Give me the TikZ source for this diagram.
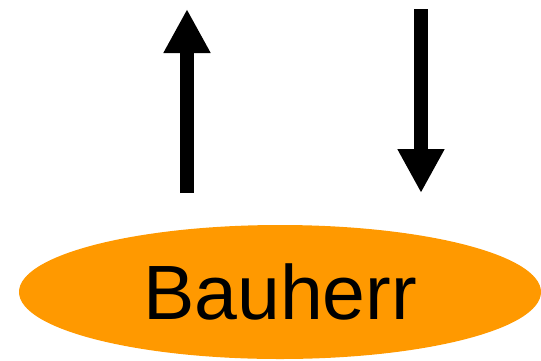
\documentclass[tikz,border=0pt]{standalone}
\usepackage{fontspec}
\setmainfont{Liberation Sans}
\usetikzlibrary{shapes.geometric,arrows.meta}
\definecolor{bauorange}{RGB}{255,153,0}
\tikzset{
  role/.style={ellipse, fill=bauorange, draw=none, inner sep=0pt,
    minimum width=522pt, minimum height=134pt,
    font=\fontsize{77pt}{80pt}\selectfont},
  flow/.style={line width=14pt, -{Triangle[length=44pt,width=44pt]}}
}
\begin{document}
\begin{tikzpicture}[x=1pt,y=-1pt]
  \useasboundingbox (0,0) rectangle (541,360);
  \clip (0,0) rectangle (541,360);
  \node[role] (bauherr) at (280,292) {Bauherr};
  \coordinate (upstart) at (187,193);
  \coordinate (upend) at (187,9);
  \coordinate (downstart) at (421,9);
  \coordinate (downend) at (421,193);
  \draw[flow] (upstart) -- (upend);
  \draw[flow] (downstart) -- (downend);
\end{tikzpicture}
\end{document}
